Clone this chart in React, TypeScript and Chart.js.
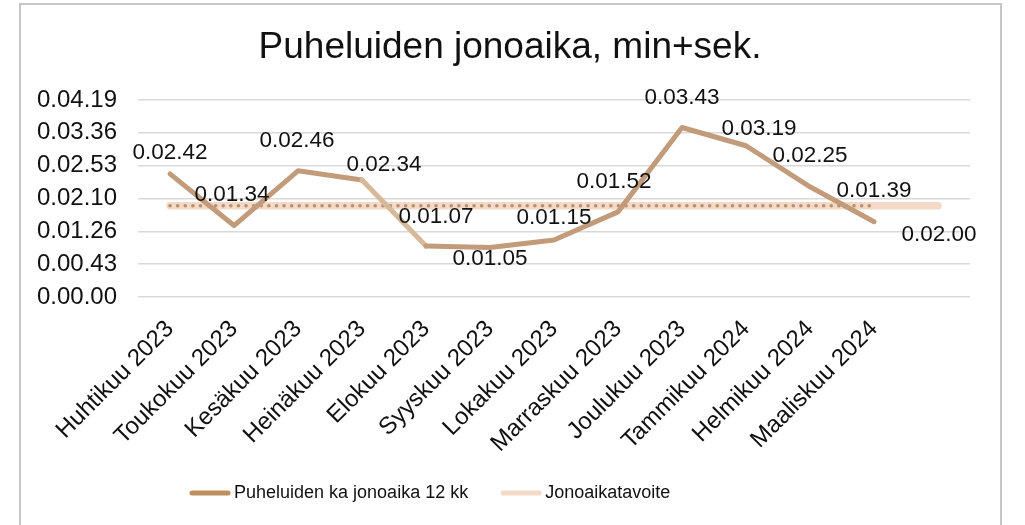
import React, { useEffect, useRef } from "react";
import { Chart, registerables } from "chart.js";

Chart.register(...registerables);

// ---------- data ----------
const categories = [
  "Huhtikuu 2023",
  "Toukokuu 2023",
  "Kesäkuu 2023",
  "Heinäkuu 2023",
  "Elokuu 2023",
  "Syyskuu 2023",
  "Lokakuu 2023",
  "Marraskuu 2023",
  "Joulukuu 2023",
  "Tammikuu 2024",
  "Helmikuu 2024",
  "Maaliskuu 2024",
  "",
];

// average queue time (seconds)
const waitSeconds = [162, 94, 166, 154, 67, 65, 75, 112, 223, 199, 145, 99];

// target queue time (seconds)
const targetSeconds = [120, 120, 120, 120, 120, 120, 120, 120, 120, 120, 120, 120, 120];

// dotted trend of the target (seconds)
const targetTrendSeconds = [120, 120, 120, 120, 120, 120, 120, 120, 120, 120, 120, 120];

const yTickValues = [0, 43.2, 86.4, 129.6, 172.8, 216, 259.2];
const yTickLabels = ["0.00.00", "0.00.43", "0.01.26", "0.02.10", "0.02.53", "0.03.36", "0.04.19"];

const seriesNames = ["Puheluiden ka jonoaika 12 kk", "Jonoaikatavoite"];
const chartTitle = "Puheluiden jonoaika, min+sek.";

// ---------- styles ----------
const FONT = "'Liberation Sans', Arial, sans-serif";
const TEXT = "#111111";
const MAIN = "#c29c7a";
const MAIN_LIGHT = "#d5b998";
const MAIN_LEGEND = "#bf8e5f";
const TARGET = "#f4d9c6";
const DOTS = "#b88f70";

// label offsets relative to each point (dx, dy)
const mainLabelOffsets: [number, number][] = [
  [0, -21], [-2, -31], [-1, -30], [22, -15], [10, -29], [0, 11],
  [0, -22], [-4, -30], [0, -30], [13, -17], [0, -31], [0, -31],
];

function fmt(sec: number): string {
  const m = Math.floor(sec / 60);
  const s = Math.round(sec - m * 60);
  return `0.${String(m).padStart(2, "0")}.${String(s).padStart(2, "0")}`;
}

const valueLabels = {
  id: "valueLabels",
  afterDatasetsDraw(chart: any) {
    const ctx = chart.ctx;
    ctx.save();
    ctx.font = `22.5px ${FONT}`;
    ctx.fillStyle = TEXT;
    ctx.textAlign = "center";
    ctx.textBaseline = "middle";
    const m0 = chart.getDatasetMeta(0);
    m0.data.forEach((pt: any, i: number) => {
      const [dx, dy] = mainLabelOffsets[i] || [0, -30];
      ctx.fillText(fmt(waitSeconds[i]), pt.x + dx, pt.y + dy);
    });
    const m1 = chart.getDatasetMeta(1);
    const li = m1.data.length - 1;
    const last = m1.data[li];
    ctx.fillText(fmt(targetSeconds[li]), last.x + 1, last.y + 29);
    ctx.restore();
  },
};

const customLegend = {
  id: "customLegend",
  afterDraw(chart: any) {
    const ctx = chart.ctx;
    ctx.save();
    ctx.font = `18px ${FONT}`;
    ctx.textBaseline = "middle";
    ctx.textAlign = "left";
    const y = 493;
    let x = 190;
    const items = [
      { text: seriesNames[0], color: MAIN_LEGEND },
      { text: seriesNames[1], color: TARGET },
    ];
    items.forEach((it) => {
      ctx.strokeStyle = it.color;
      ctx.lineWidth = 5;
      ctx.lineCap = "round";
      ctx.beginPath();
      ctx.moveTo(x + 2, y);
      ctx.lineTo(x + 38, y);
      ctx.stroke();
      ctx.fillStyle = TEXT;
      ctx.fillText(it.text, x + 44, y);
      x = x + 44 + ctx.measureText(it.text).width + 33;
    });
    ctx.restore();
  },
};

export default function App() {
  const ref = useRef<HTMLCanvasElement>(null);

  useEffect(() => {
    document.body.style.margin = "0";
    document.body.style.overflow = "hidden";
    if (!ref.current) return;
    const chart = new Chart(ref.current, {
      type: "line",
      data: {
        labels: categories,
        datasets: [
          {
            label: seriesNames[0],
            data: waitSeconds,
            borderColor: MAIN,
            borderWidth: 5,
            borderCapStyle: "round",
            borderJoinStyle: "round",
            pointRadius: 0,
            tension: 0,
            order: 0,
            segment: {
              borderColor: (c: any) => (c.p0DataIndex === 3 ? MAIN_LIGHT : MAIN),
            },
          },
          {
            label: seriesNames[1],
            data: targetSeconds,
            borderColor: TARGET,
            borderWidth: 7.5,
            borderCapStyle: "round",
            pointRadius: 0,
            order: 2,
          },
          {
            label: "trend",
            data: targetTrendSeconds,
            borderColor: DOTS,
            borderWidth: 3.5,
            borderCapStyle: "round",
            borderDash: [0.1, 7.5],
            pointRadius: 0,
            order: 1,
          },
        ],
      },
      options: {
        responsive: false,
        maintainAspectRatio: false,
        animation: false,
        devicePixelRatio: 1,
        layout: { padding: { left: 0, right: 5, top: 0, bottom: 0 } },
        plugins: {
          legend: { display: false },
          tooltip: { enabled: false },
          title: {
            display: true,
            text: chartTitle,
            color: TEXT,
            font: { family: FONT, size: 37, weight: "normal", lineHeight: 1.2 },
            padding: { top: 26, bottom: 29.6 },
          },
        },
        scales: {
          x: {
            offset: true,
            grid: { display: false, drawTicks: false, offset: true },
            border: { display: false },
            ticks: {
              autoSkip: false,
              minRotation: 45,
              maxRotation: 45,
              padding: 18,
              color: TEXT,
              font: { family: FONT, size: 24 },
            },
            afterFit: (s: any) => {
              s.height = 228;
            },
          },
          y: {
            min: 0,
            max: 259.2,
            grid: { color: "#d9d9d9", lineWidth: 1.5, drawTicks: false },
            border: { display: false },
            ticks: {
              padding: 21,
              color: TEXT,
              font: { family: FONT, size: 24 },
              callback: (_v: any, i: number) => yTickLabels[i],
            },
            afterBuildTicks: (s: any) => {
              s.ticks = yTickValues.map((v) => ({ value: v }));
            },
            afterFit: (s: any) => {
              s.width = 138;
            },
          },
          yRightSpace: {
            position: "right",
            display: true,
            min: 0,
            max: 1,
            grid: { display: false, drawTicks: false },
            border: { display: false },
            ticks: { display: false },
            afterFit: (s: any) => {
              s.width = 50;
            },
          },
        },
      },
      plugins: [valueLabels, customLegend],
    });
    return () => chart.destroy();
  }, []);

  return (
    <div style={{ position: "relative", width: 1025, height: 525, overflow: "hidden", background: "#fff" }}>
      <canvas ref={ref} width={1025} height={525} style={{ display: "block", position: "absolute", left: 0, top: 0 }} />
      <div
        style={{
          position: "absolute",
          left: 19,
          top: 3,
          width: 979,
          height: 600,
          border: "2px solid #c6c6c6",
          pointerEvents: "none",
        }}
      />
    </div>
  );
}
